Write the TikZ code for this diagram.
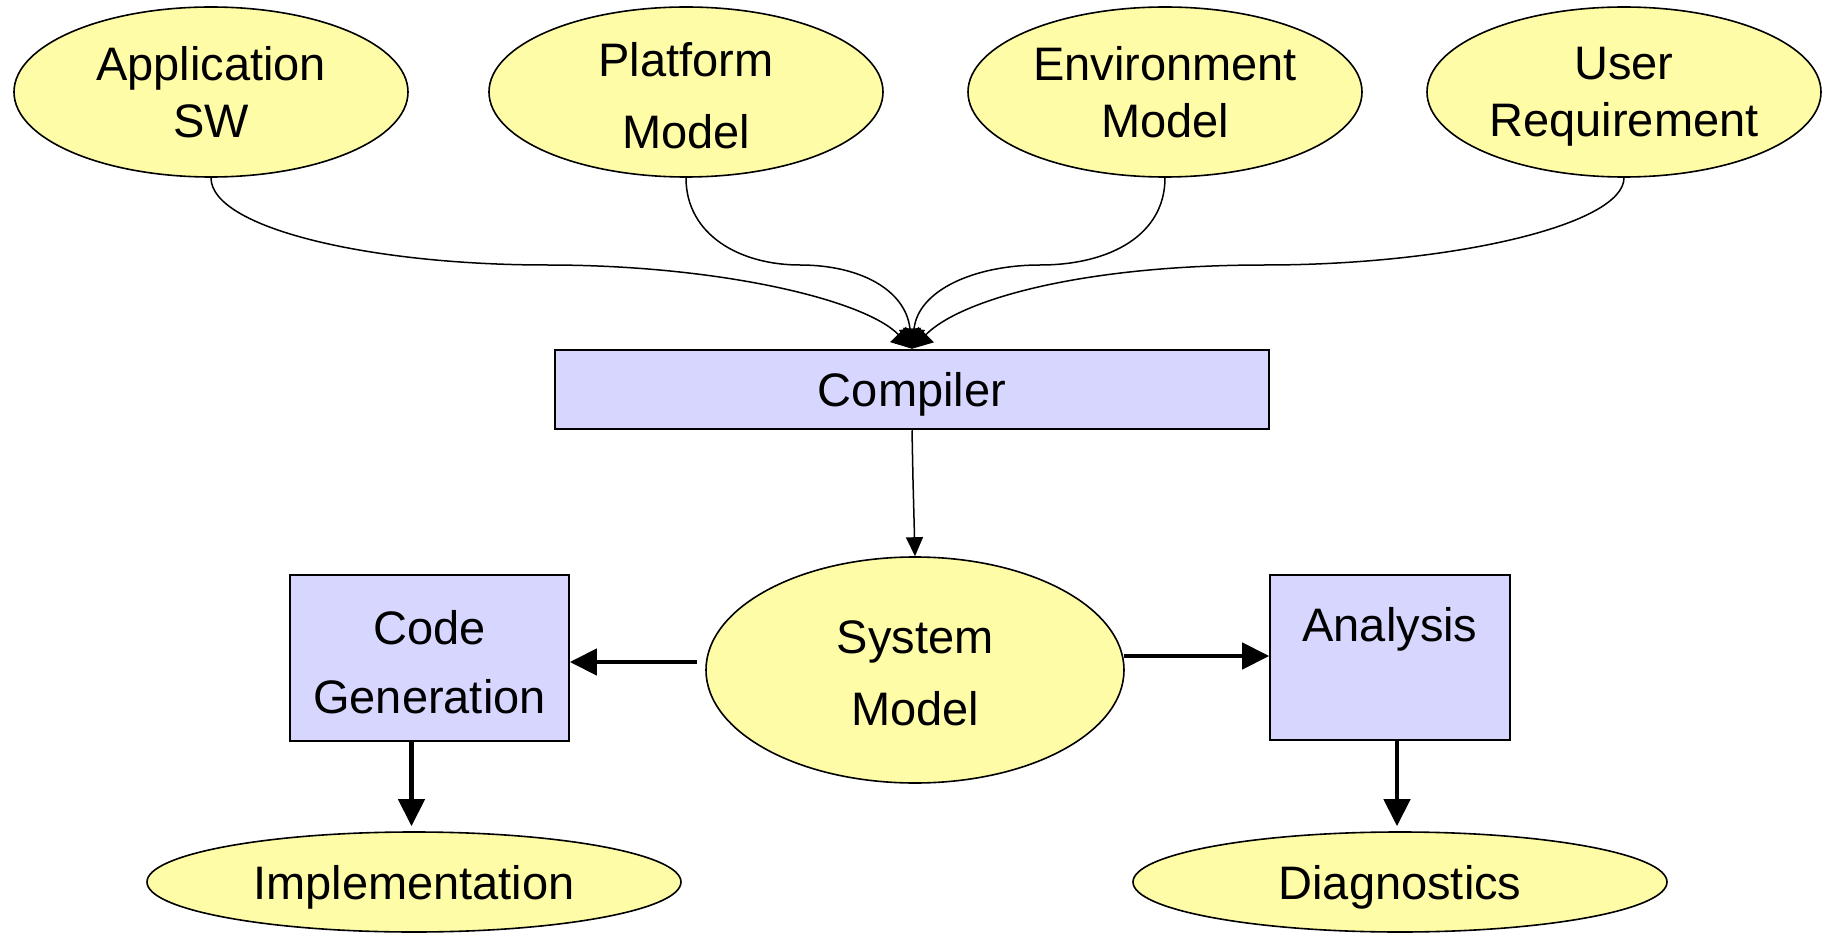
\documentclass[tikz,border=0pt]{standalone}
\usepackage{fontspec}
\setmainfont{Liberation Sans}
\usetikzlibrary{shapes.geometric,arrows.meta}

\definecolor{modelfill}{RGB}{255,252,168}
\definecolor{toolfill}{RGB}{214,214,255}

\tikzset{
  model/.style={ellipse, draw=black, line width=1.6pt, fill=modelfill,
                inner sep=0pt, minimum width=394pt, minimum height=170pt},
  tool/.style={rectangle, draw=black, line width=1.6pt, fill=toolfill,
               inner sep=0pt},
  lbl/.style={inner sep=0pt, align=center,
              font=\fontsize{47}{56.7}\selectfont},
  feed/.style={line width=1.5pt, -{Triangle[length=20pt,width=22pt]}},
  thin arrow/.style={line width=1.5pt, -{Triangle[length=19pt,width=17pt]}},
  thick arrow/.style={line width=4.5pt, -{Triangle[length=27pt,width=26pt]}}
}

\begin{document}
\begin{tikzpicture}[x=1pt,y=-1pt]
\clip (0,0) rectangle (1829,933);
\fill[white] (0,0) rectangle (1829,933);

% input models
\node[model, label={[lbl]center:Application\\SW}] (app) at (211,92) {};
\node[model, label={[lbl,font=\fontsize{47}{72}\selectfont,yshift=-3.75pt]center:Platform\\Model}] (plat) at (686,92) {};
\node[model, label={[lbl]center:Environment\\Model}] (env) at (1165,92) {};
\node[model, label={[lbl,yshift=-5pt]center:User\\Requirement}] (user) at (1624,92) {};

% compiler
\node[tool, line width=2.5pt, minimum width=714pt, minimum height=79pt,
      label={[lbl,yshift=-5pt]center:Compiler}] (comp) at (912,389.5) {};

% system model and the two tools fed by it
\node[model, minimum width=418pt, minimum height=226pt,
      label={[lbl,font=\fontsize{47}{71.7}\selectfont,yshift=-3.6pt]center:System\\Model}] (sys) at (915,670) {};
\node[tool, minimum width=279pt, minimum height=166pt,
      label={[lbl,font=\fontsize{47}{69}\selectfont,yshift=-4.5pt]center:Code\\Generation}] (code) at (429.5,658) {};
\node[tool, minimum width=240pt, minimum height=165pt,
      label={[lbl,yshift=28pt]center:Analysis}] (ana) at (1390,657.5) {};

% outputs
\node[model, minimum width=534pt, minimum height=100pt,
      label={[lbl,yshift=-5.75pt]center:Implementation}] (impl) at (414,882) {};
\node[model, minimum width=534pt, minimum height=100pt,
      label={[lbl,yshift=-5.75pt]center:Diagnostics}] (diag) at (1400,882) {};

% inputs into the compiler
\draw[feed] (app.south) .. controls (211,228) and (370,265) .. (547,265)
            .. controls (720,265) and (865,300) .. (comp.north);
\draw[feed] (plat.south) .. controls (686,235) and (740,265) .. (800,265)
            .. controls (860,265) and (906,290) .. (comp.north);
\draw[feed] (env.south) .. controls (1165,235) and (1110,265) .. (1040,265)
            .. controls (975,265) and (918,290) .. (comp.north);
\draw[feed] (user.south) .. controls (1624,225) and (1450,265) .. (1265,265)
            .. controls (1080,265) and (960,300) .. (comp.north);

% compiler output
\draw[thin arrow] (comp.south) -- ++(1,50) -- (sys.north);

% system model to the tools
\draw[thick arrow] ([shift={(-8,-8)}]sys.west) coordinate (cgStart)
      -- (cgStart -| code.east);
\draw[thick arrow] ([shift={(-1,-14)}]sys.east) coordinate (anStart)
      -- (anStart -| ana.west);

% tools to their results
\draw[thick arrow] ([xshift=-18pt]code.south) coordinate (imStart)
      -- ([yshift=5pt]imStart |- impl.north);
\draw[thick arrow] ([xshift=7pt]ana.south) coordinate (dgStart)
      -- ([yshift=5pt]dgStart |- diag.north);
\end{tikzpicture}
\end{document}
